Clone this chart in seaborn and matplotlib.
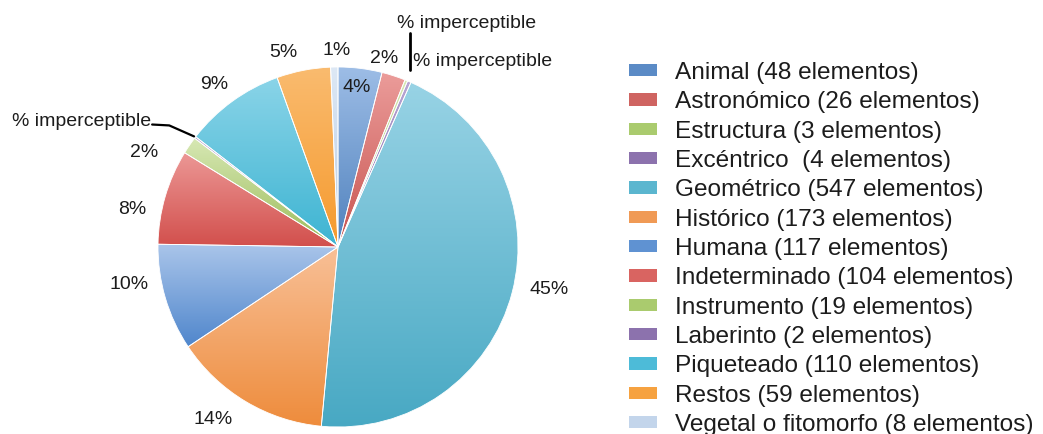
import numpy as np
import matplotlib
matplotlib.use('Agg')
import matplotlib.pyplot as plt
import seaborn as sns
from matplotlib.colors import LinearSegmentedColormap
from matplotlib.patches import Patch

# Datos
categorias = ['Animal', 'Astronómico', 'Estructura', 'Excéntrico ', 'Geométrico', 'Histórico',
              'Humana', 'Indeterminado', 'Instrumento', 'Laberinto', 'Piqueteado', 'Restos',
              'Vegetal o fitomorfo']
elementos = [48, 26, 3, 4, 547, 173, 117, 104, 19, 2, 110, 59, 8]
# porcentajes tal como aparecen en el gráfico (None = imperceptible)
porcentajes = ['4%', '2%', None, None, '45%', '14%', '10%', '8%', '2%', None, '9%', '5%', '1%']

# degradado de cada sector: claro arriba, oscuro abajo
col_claro = ['#9dbde6', '#eb9c9a', '#d7e8b4', '#b9a6d4', '#98d3e5', '#f8c097', '#aac5ea',
             '#ec9896', '#d7e8b4', '#b9a6d4', '#8ad4e8', '#fabb6f', '#dde8f5']
col_oscuro = ['#4f81bd', '#c85450', '#9bbb59', '#8064a2', '#47a8c3', '#ee8c3c', '#4f86cc',
              '#d24f4c', '#9bbb59', '#8064a2', '#3db4d2', '#f59a2e', '#b9cde5']
col_leyenda = ['#5b8bc6', '#cf6461', '#aacb6e', '#8c72ad', '#5bb6cf', '#f09a55', '#5f92d2',
               '#d96461', '#aacb6e', '#8c72ad', '#4dbbd8', '#f6a240', '#c3d5eb']

# posición de las etiquetas: distancia (radios) y giro respecto al centro del sector (grados)
dist_etiqueta = [0.89, 1.08, None, None, 1.196, 1.186, 1.18, 1.16, 1.2, None, 1.133, 1.12, 1.094]
giro_etiqueta = [0.3, 4.3, 0, 0, 3.1, -5.1, -6.3, 5.8, 8.3, 0, 1.4, 4.7, -0.9]

sns.set_style('white')
plt.rcParams['font.family'] = ['Liberation Sans', 'DejaVu Sans']

fig = plt.figure(figsize=(10.43, 4.34), dpi=100)
ax = fig.add_axes([158 / 1043, 7 / 434, 360 / 1043, 360 / 434])

wedges, _ = ax.pie(elementos, colors=col_leyenda, startangle=90, counterclock=False,
                   wedgeprops=dict(linewidth=0.6, edgecolor='white'))

# relleno en degradado recortado a cada sector
grad = np.linspace(0, 1, 256).reshape(-1, 1)
for w, c1, c2 in zip(wedges, col_claro, col_oscuro):
    v = w.get_path().vertices
    cmap = LinearSegmentedColormap.from_list('g', [c1, c2])
    im = ax.imshow(grad, cmap=cmap, aspect='auto', origin='upper', zorder=0.5,
                   extent=[v[:, 0].min(), v[:, 0].max(), v[:, 1].min(), v[:, 1].max()])
    im.set_clip_path(w)
    w.set_facecolor('none')
    w.set_zorder(1)

ax.set_xlim(-1, 1)
ax.set_ylim(-1, 1)
ax.set_aspect('equal')
ax.axis('off')

for w, p, d, g in zip(wedges, porcentajes, dist_etiqueta, giro_etiqueta):
    if p is None:
        continue
    ang = np.deg2rad((w.theta1 + w.theta2) / 2 + g)
    ax.text(d * np.cos(ang), d * np.sin(ang), p, ha='center', va='center',
            fontsize=14, color='#1c1c1c')

# etiquetas de porcentaje imperceptible
a = np.deg2rad(wedges[2].theta1)
x0, y0 = np.cos(a), np.sin(a)
ax.plot([x0 + 0.011, x0 + 0.011], [y0 + 0.06, y0 + 0.267], color='black', lw=2,
        clip_on=False)
ax.text(x0 - 0.061, y0 + 0.322, '% imperceptible', fontsize=14, ha='left', va='center',
        color='#1c1c1c')
ax.text(x0 + 0.028, y0 + 0.106, '% imperceptible', fontsize=14, ha='left', va='center',
        color='#1c1c1c')

a = np.deg2rad((wedges[9].theta1 + wedges[9].theta2) / 2)
x0, y0 = np.cos(a), np.sin(a)
ax.plot([x0 - 0.239, x0 - 0.144, x0 - 0.006], [y0 + 0.072, y0 + 0.067, y0 + 0.006],
        color='black', lw=1.6, clip_on=False)
ax.text(x0 - 0.244, y0 + 0.089, '% imperceptible', fontsize=14, ha='right', va='center',
        color='#1c1c1c')

etiquetas = [f'{c} ({n} elementos)' for c, n in zip(categorias, elementos)]
manejadores = [Patch(facecolor=c, edgecolor='none') for c in col_leyenda]
fig.legend(manejadores, etiquetas, loc='upper left',
           bbox_to_anchor=(629 / 1043, 1 - 62 / 434), frameon=False, fontsize=17.6,
           borderpad=0, borderaxespad=0, handlelength=1.15, handleheight=0.4,
           handletextpad=0.74, labelspacing=0.3, labelcolor='#1c1c1c')

fig.savefig('out.png', dpi=100)
